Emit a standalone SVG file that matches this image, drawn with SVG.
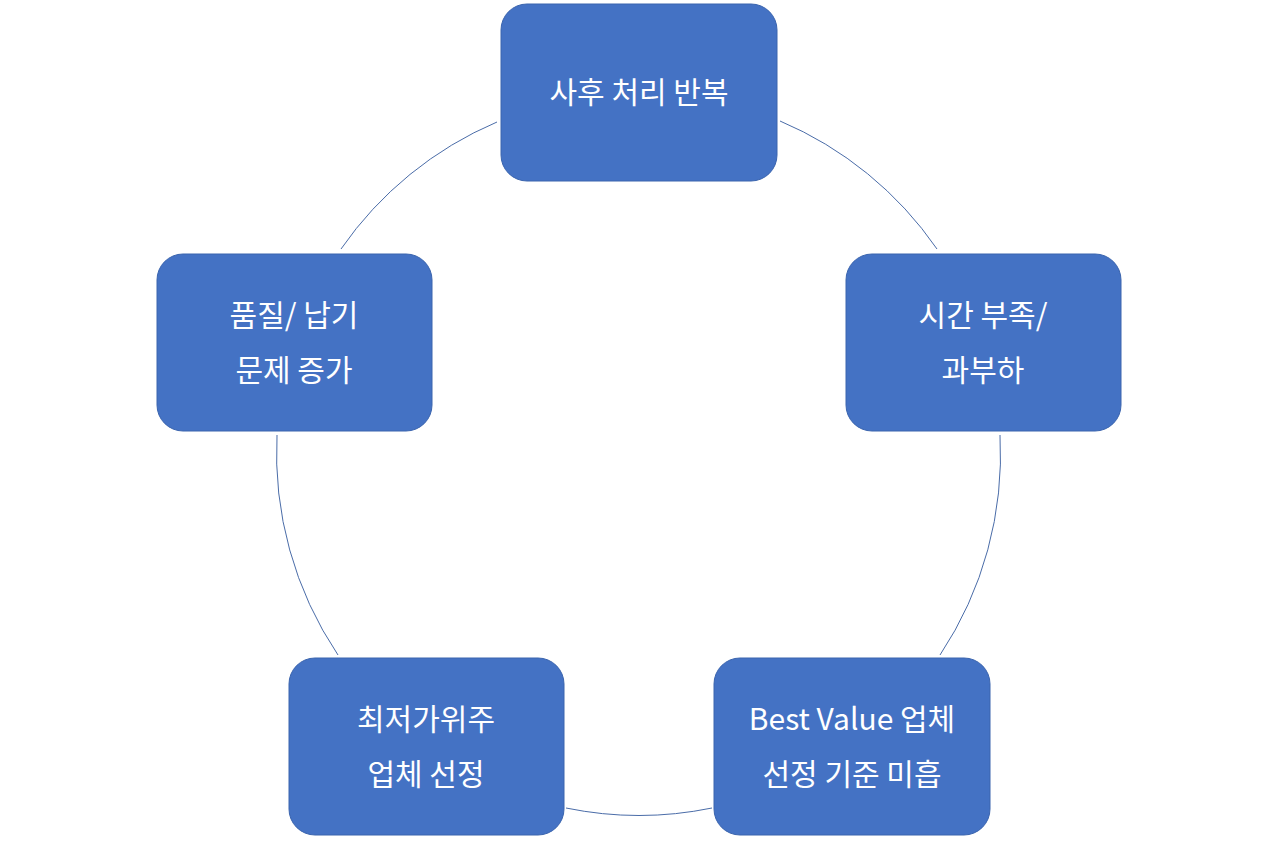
<svg xmlns="http://www.w3.org/2000/svg" width="1280" height="853" viewBox="0 0 1280 853">
<style>
.box{fill:#4472C4;stroke:#3A64AE;stroke-width:1}
.t{fill:#fff;font-family:"Noto Sans CJK KR","Noto Sans",sans-serif;font-size:30px;text-anchor:middle}
.c{fill:none;stroke:#4A6CA8;stroke-width:1}
</style>
<rect width="1280" height="853" fill="#fff"/>
<g id="connectors">
<path class="c" d="M780,121 A362,362 0 0 1 937,249"/>
<path class="c" d="M1000,435 A362,362 0 0 1 940,655"/>
<path class="c" d="M712,808 A362,362 0 0 1 566,808"/>
<path class="c" d="M338,655 A362,362 0 0 1 277,435"/>
<path class="c" d="M341,249 A362,362 0 0 1 497,122"/>
</g>
<g id="n1"><rect class="box" x="501" y="4" width="276" height="177" rx="26"/><text class="t" x="639" y="103">사후 처리 반복</text></g>
<g id="n2"><rect class="box" x="846" y="254" width="275" height="177" rx="26"/><text class="t" x="983" y="326">시간 부족/</text><text class="t" x="983" y="381">과부하</text></g>
<g id="n3"><rect class="box" x="714" y="658" width="276" height="177" rx="26"/><text class="t" x="852" y="730">Best Value 업체</text><text class="t" x="852" y="785">선정 기준 미흡</text></g>
<g id="n4"><rect class="box" x="289" y="658" width="275" height="177" rx="26"/><text class="t" x="426" y="730">최저가위주</text><text class="t" x="426" y="785">업체 선정</text></g>
<g id="n5"><rect class="box" x="157" y="254" width="275" height="177" rx="26"/><text class="t" x="294" y="326">품질/ 납기</text><text class="t" x="294" y="381">문제 증가</text></g>
</svg>
